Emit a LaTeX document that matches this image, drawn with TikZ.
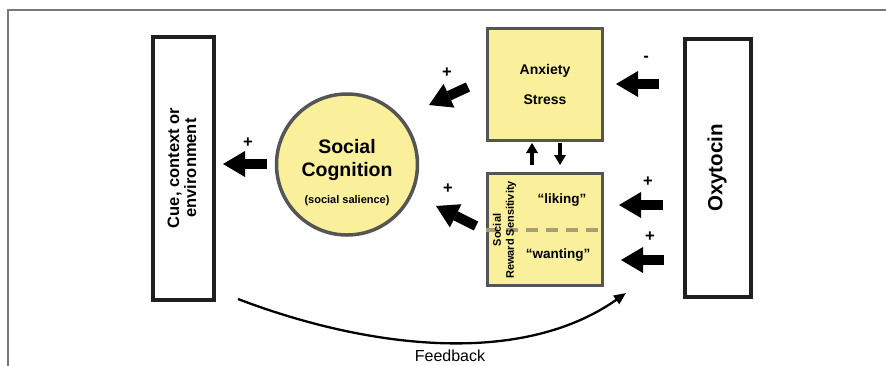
\documentclass[tikz,border=0pt]{standalone}
\usepackage{fontspec}
\setmainfont{Liberation Sans}
\usetikzlibrary{arrows.meta}
\definecolor{boxyellow}{RGB}{250,240,155}
\definecolor{boxedge}{RGB}{85,85,85}
\definecolor{dashcol}{RGB}{165,160,120}
\definecolor{framegray}{RGB}{120,120,120}
\begin{document}
\begin{tikzpicture}[x=1pt,y=-1pt,
  sidebox/.style={draw=black!88, line width=4pt, inner sep=0pt},
  ybox/.style={draw=boxedge, fill=boxyellow, line width=3pt,
    minimum width=115pt, minimum height=112pt, inner sep=0pt},
  bigarrow/.style={line width=10pt,
    -{Triangle[width=26pt,length=22pt,line width=0pt]}},
  smallarrow/.style={line width=4pt,
    -{Triangle[width=12pt,length=10pt,line width=0pt]}},
  sign/.style={font=\fontsize{16.5}{16}\selectfont\bfseries, inner sep=0pt},
  ]
\useasboundingbox (0,0) rectangle (886,365);

% outer frame (top and left edges)
\draw[framegray, line width=1.5pt] (8,370) -- (8,10) -- (890,10);

% side boxes
\node[sidebox, minimum width=61pt, minimum height=263pt] (cue) at (183.5,168.5) {};
\node[rotate=90, align=center, font=\fontsize{16.5}{17}\selectfont\bfseries]
  (cuetext) at (182,168) {Cue, context or\\environment};
\node[sidebox, minimum width=66pt, minimum height=258pt] (oxy) at (718,168) {};
\node[rotate=90, font=\fontsize{20.5}{24}\selectfont\bfseries]
  (oxytext) at (717,168) {Oxytocin};

% social cognition circle
\node[circle, draw=boxedge, fill=boxyellow, line width=3.5pt,
  minimum size=141pt, inner sep=0pt] (cog) at (347,164.5) {};
\node[anchor=base, font=\fontsize{19.5}{22}\selectfont\bfseries] (cogA) at (347,153) {Social};
\node[anchor=base, font=\fontsize{19.5}{22}\selectfont\bfseries] (cogB) at (347,176) {Cognition};
\node[anchor=base, font=\fontsize{11}{13}\selectfont\bfseries] (cogC) at (347,203) {(social salience)};

% anxiety / stress box
\node[ybox, align=center, font=\fontsize{14}{30}\selectfont\bfseries]
  (anx) at (545,84.5) {Anxiety\\Stress};

% social reward sensitivity box
\node[ybox] (rew) at (545,229.5) {};
\draw[dashcol, line width=4pt, dash pattern=on 12pt off 8pt] (rew.west) -- (rew.east);
\node[rotate=90, align=center, font=\fontsize{11}{13}\selectfont\bfseries]
  (srs) at (504.5,230) {Social\\Reward Sensitivity};
\node[font=\fontsize{13.5}{15}\selectfont\bfseries] (liking) at (562,200) {“liking”};
\node[font=\fontsize{13.5}{15}\selectfont\bfseries] (wanting) at (558,255) {“wanting”};

% arrow end points
\coordinate (a1t) at (659,84);  \coordinate (a1h) at (616,84);
\coordinate (a2t) at (663,205); \coordinate (a2h) at (619,205);
\coordinate (a3t) at (664,260); \coordinate (a3h) at (621,260);
\coordinate (a4t) at (267,164); \coordinate (a4h) at (223,164);
\coordinate (a5t) at (468,87);  \coordinate (a5h) at (429,105);
\coordinate (a6t) at (476,226); \coordinate (a6h) at (436,206);

\draw[bigarrow] (a1t) -- (a1h);
\draw[bigarrow] (a2t) -- (a2h);
\draw[bigarrow] (a3t) -- (a3h);
\draw[bigarrow] (a4t) -- (a4h);
\draw[bigarrow] (a5t) -- (a5h);
\draw[bigarrow] (a6t) -- (a6h);

% signs
\node[sign] (s1) at (646,59) {-};
\node[sign] (s2) at (648,182) {+};
\node[sign] (s3) at (650,237) {+};
\node[sign] (s4) at (248,143) {+};
\node[sign] (s5) at (447,73) {+};
\node[sign] (s6) at (448,189) {+};

% exchange between the two yellow boxes
\coordinate (u1) at (532,165); \coordinate (u2) at (532,143);
\coordinate (d1) at (560,143); \coordinate (d2) at (560,165);
\draw[smallarrow] (u1) -- (u2);
\draw[smallarrow] (d1) -- (d2);

% feedback loop
\coordinate (fbs) at (238,299);
\coordinate (fbe) at (626,293);
\draw[line width=2.3pt, -{Triangle[width=10pt,length=12pt]}]
  (fbs) .. controls (361,346) and (518,369) .. (fbe);
\node[font=\fontsize{16}{18}\selectfont] (fbl) at (450,356) {Feedback};
\end{tikzpicture}
\end{document}
